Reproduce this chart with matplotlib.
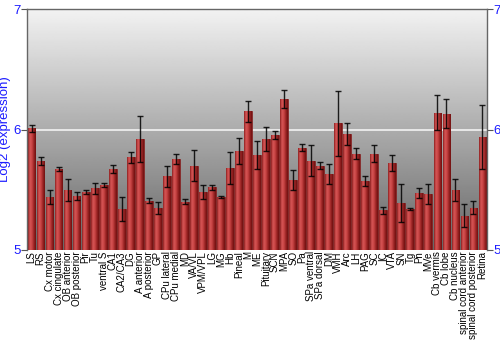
import numpy as np
import matplotlib.pyplot as plt
from matplotlib.colors import LinearSegmentedColormap

regions = ['LS', 'RS', 'Cx motor', 'Cx cingulate', 'OB anterior', 'OB posterior',
           'Pir', 'Tu', 'ventral S', 'CA1', 'CA2/CA3', 'DG', 'A anterior',
           'A posterior', 'GP', 'CPu lateral', 'CPu medial', 'MD', 'VA/VL',
           'VPM/VPL', 'LG', 'MG', 'Hb', 'Pineal', 'M', 'ME', 'Pituitary', 'SCN',
           'MPA', 'SO', 'Pa', 'SPa ventral', 'SPa dorsal', 'DM', 'VMH', 'Arc',
           'LH', 'PAG', 'SC', 'IC', 'VTA', 'SN', 'Tg', 'Pn', 'MVe', 'Cb vermis',
           'Cb lobe', 'Cb nucleus', 'spinal cord anterior',
           'spinal cord posterior', 'Retina']

expr = [6.01, 5.74, 5.44, 5.67, 5.50, 5.45, 5.48, 5.51, 5.54, 5.67, 5.34,
        5.77, 5.92, 5.41, 5.35, 5.61, 5.755, 5.40, 5.70, 5.48, 5.52, 5.44,
        5.68, 5.82, 6.15, 5.79, 5.92, 5.955, 6.25, 5.58, 5.85, 5.74, 5.70,
        5.63, 6.05, 5.96, 5.80, 5.57, 5.80, 5.33, 5.72, 5.39, 5.34, 5.475,
        5.465, 6.14, 6.13, 5.50, 5.285, 5.35, 5.935]

err = [0.03, 0.035, 0.06, 0.015, 0.09, 0.035, 0.015, 0.045, 0.015, 0.035,
       0.10, 0.045, 0.19, 0.02, 0.05, 0.09, 0.045, 0.02, 0.13, 0.055, 0.02,
       0.01, 0.13, 0.11, 0.09, 0.115, 0.10, 0.035, 0.075, 0.085, 0.03, 0.13,
       0.03, 0.08, 0.27, 0.09, 0.045, 0.04, 0.07, 0.03, 0.065, 0.16, 0.005,
       0.04, 0.08, 0.145, 0.12, 0.09, 0.095, 0.055, 0.265]

blue = '#1a1aff'
plt.rcParams['font.family'] = ['Liberation Sans', 'DejaVu Sans']

fig = plt.figure(figsize=(5, 3.5), dpi=100)
ax = fig.add_axes([0.054, 0.286, 0.92, 0.688])

x = np.arange(len(regions))
w = 0.86
base = 5.0
heights = [v - base for v in expr]

# grey vertical gradient behind the plot
bg = np.linspace(0.95, 0.40, 256).reshape(-1, 1)
ax.imshow(bg, cmap='gray', vmin=0, vmax=1, aspect='auto',
          extent=(0, 1, 0, 1), transform=ax.transAxes, zorder=0)

ax.axhline(6, color='#f2f2f2', lw=1.2, zorder=1)

bars = ax.bar(x, heights, bottom=base, width=w, color='#b83030',
              edgecolor='#7a1a1a', linewidth=0.5, zorder=2)

# cylinder like shading on each bar
red = LinearSegmentedColormap.from_list('redbar', ['#8c2020', '#d65555', '#c84444', '#9a2424', '#6e1010'])
shade = np.linspace(0, 1, 64).reshape(1, -1)
for b, xi, v in zip(bars, x, expr):
    im = ax.imshow(shade, cmap=red, aspect='auto',
                   extent=(xi - w / 2, xi + w / 2, base, v), zorder=2.5)
    im.set_clip_path(b)

ax.errorbar(x, expr, yerr=err, fmt='none', ecolor='black', elinewidth=1,
            capsize=2, capthick=1, alpha=0.85, zorder=3)

ax.set_xlim(-0.5, len(regions) - 0.5)
ax.set_ylim(5, 7)
ax.set_yticks([5, 6, 7])
ax.set_xticks(x)
ax.set_xticklabels(regions, rotation=90, fontsize=7)
ax.tick_params(axis='x', length=0, pad=1)
ax.tick_params(axis='y', labelcolor=blue, labelsize=9.5, color='#555555',
               length=4, right=True, labelright=True, pad=0.5)
ax.set_ylabel('Log2 (expression)', color=blue, fontsize=9.5)
ax.yaxis.set_label_coords(-0.035, 0.5)

for s in ax.spines.values():
    s.set_color('#666666')
    s.set_linewidth(1)
ax.spines['bottom'].set_visible(False)

fig.savefig('out.png', dpi=100)
